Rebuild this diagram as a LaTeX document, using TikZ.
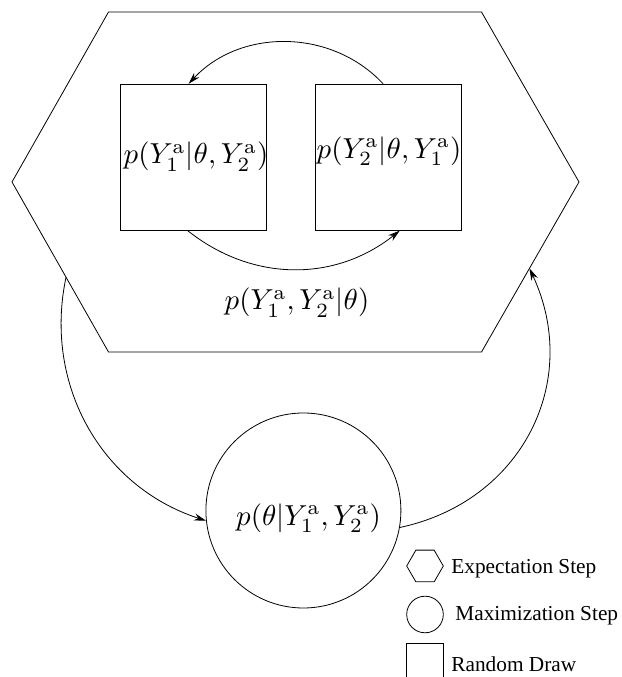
\documentclass[tikz,border=0pt]{standalone}
\usepackage{fontspec}
\usepackage{graphicx}
\newfontfamily\legendfont{Liberation Serif}
\usetikzlibrary{shapes.geometric,arrows.meta,calc}
\newcommand{\mathlbl}[1]{\scalebox{2.9}{$#1$}}
\begin{document}
\begin{tikzpicture}[x=1bp,y=1bp, line width=0.8bp,
  box/.style={draw, rectangle, minimum size=146bp, inner sep=0pt},
  mcirc/.style={draw, circle, minimum size=195bp, inner sep=0pt},
  lbl/.style={inner sep=0pt},
  arr/.style={-{Stealth[length=12bp,width=7bp]}},
  legtext/.style={anchor=base west, inner sep=0pt, font=\legendfont\fontsize{21.3bp}{25bp}\selectfont},
  legshape/.style={draw, inner sep=0pt, minimum size=36.6bp}
]
\useasboundingbox (0,0) rectangle (622,677);
% expectation step hexagon
\coordinate (hL) at (12,495);
\coordinate (hTL) at (108.5,665);
\coordinate (hTR) at (481.5,665);
\coordinate (hR) at (579,495);
\coordinate (hBR) at (481.5,325);
\coordinate (hBL) at (108.5,325);
\draw (hL) -- (hTL) -- (hTR) -- (hR) -- (hBR) -- (hBL) -- cycle;
\node[lbl] (elbl) at (297,374.5) {\mathlbl{p(Y_1^{\mathrm{a}},Y_2^{\mathrm{a}}|\theta)}};
% random draws
\node[box] (sq1) at (193.7,519.8) {};
\node[box] (sq2) at (388.5,519.8) {};
\node[lbl] (t1) at (196,520.3) {\mathlbl{p(Y_1^{\mathrm{a}}|\theta,Y_2^{\mathrm{a}})}};
\node[lbl] (t2) at (389,526) {\mathlbl{p(Y_2^{\mathrm{a}}|\theta,Y_1^{\mathrm{a}})}};
% maximization step
\node[mcirc] (mc) at (303.4,166.5) {};
\node[lbl] (t3) at (308.5,159) {\mathlbl{p(\theta|Y_1^{\mathrm{a}},Y_2^{\mathrm{a}})}};
% inner arcs
\coordinate (a1s) at ($(sq2.north west)+(68,0)$);
\coordinate (a1e) at ($(sq1.north west)+(68.3,0)$);
\draw[arr] (a1s) to[out=133,in=47] (a1e);
\coordinate (a2s) at ($(sq1.south west)+(67.3,0)$);
\coordinate (a2e) at ($(sq2.south west)+(84.7,0)$);
\draw[arr] (a2s) to[out=-38.5,in=-141.5] (a2e);
% outer arcs
\coordinate (b1s) at ($(hL)!0.56!(hBL)$);
\draw[arr] (b1s) to[out=-102,in=162] (mc.186.5);
\coordinate (b2e) at ($(hR)!0.508!(hBR)$);
\draw[arr] (mc.-10.4) to[out=12,in=-65,looseness=1.1] (b2e);
% legend
\node[legshape, regular polygon, regular polygon sides=6] (lh) at (425,111) {};
\node[legshape, circle] (lc) at (425,62.5) {};
\node[legshape, rectangle] (ls) at (425,15) {};
\node[legtext] (lht) at (451,103.7) {Expectation Step};
\node[legtext] (lct) at (455,56.3) {Maximization Step};
\node[legtext] (lst) at (451,5.7) {Random Draw};
\end{tikzpicture}
\end{document}
